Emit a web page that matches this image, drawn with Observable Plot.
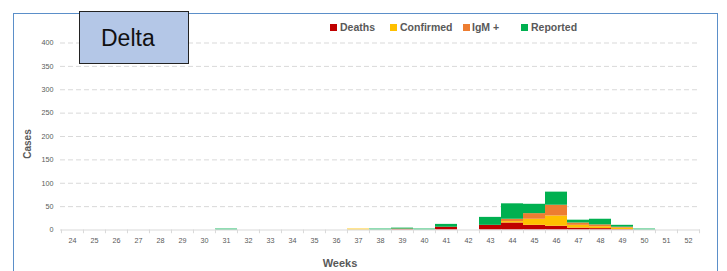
<!DOCTYPE html>
<html>
<head>
<meta charset="utf-8">
<script src="https://cdn.jsdelivr.net/npm/d3@7"></script>
<script src="https://cdn.jsdelivr.net/npm/@observablehq/plot@0.6"></script>
<style>
  html, body { margin: 0; padding: 0; background: #fff; }
  #wrap { position: relative; width: 727px; height: 271px; overflow: hidden; font-family: "Liberation Sans", Arial, sans-serif; }
  #frame { position: absolute; left: 13px; top: 13px; width: 705px; height: 300px; border: 1px solid #5b8fc9; box-sizing: border-box; }
  #chart { position: absolute; left: 0; top: 0; }
  .leg { position: absolute; top: 21px; font-size: 10.5px; font-weight: bold; color: #595959; white-space: nowrap; line-height: 12px; }
  .sw { position: absolute; top: 24px; width: 7px; height: 7px; }
  #delta { position: absolute; left: 79px; top: 11px; width: 110px; height: 53px; box-sizing: border-box; background: #b4c7e7; border: 1.6px solid #222; }
  #delta span { position: absolute; left: 21px; top: 13px; font-size: 23px; color: #111; font-family: "Liberation Sans", Arial, sans-serif; }
  #ylab { position: absolute; left: 27px; top: 144px; transform: translate(-50%, -50%) rotate(-90deg); font-size: 10px; font-weight: bold; color: #595959; }
  #xlab { position: absolute; left: 340px; top: 257px; transform: translateX(-50%); font-size: 11px; line-height: 12px; font-weight: bold; color: #595959; }
</style>
</head>
<body>
<div id="wrap">
  <div id="frame"></div>
  <div id="chart"></div>
  <div id="legend"></div>
  <div id="delta"><span>Delta</span></div>
  <div id="ylab">Cases</div>
  <div id="xlab">Weeks</div>
</div>
<script>
const weeks = d3.range(24, 53);
const seriesNames = ["Deaths", "Confirmed", "IgM +", "Reported"];
const seriesColors = ["#c00000", "#ffc000", "#ed7d31", "#00b050"];
const yTicks = [0, 50, 100, 150, 200, 250, 300, 350, 400];

// values per week (weeks 24..52)
const deaths    = {39: 1, 41: 6, 43: 10, 44: 15, 45: 10, 46: 8, 47: 4, 48: 3, 49: 1};
const confirmed = {37: 2, 44: 3, 45: 13, 46: 22, 47: 6, 48: 4, 49: 3};
const igm       = {39: 1, 44: 5, 45: 12, 46: 23, 47: 5, 48: 4, 49: 2};
const reported  = {31: 2, 38: 2, 39: 2, 40: 2, 41: 6, 43: 17, 44: 33, 45: 20, 46: 28, 47: 6, 48: 12, 49: 4, 50: 2};

const seriesValues = [deaths, confirmed, igm, reported];
const table = [];
seriesNames.forEach((s, i) => {
  weeks.forEach(w => {
    const v = seriesValues[i][w] || 0;
    if (v > 0) table.push({week: w, series: s, value: v});
  });
});

const W = 727, H = 271, mL = 60, mR = 27;
const bw = (W - mL - mR) / weeks.length;

const chart = Plot.plot({
  width: W, height: H,
  marginLeft: mL, marginRight: mR, marginTop: 42.5, marginBottom: 41.5,
  style: {fontFamily: "Liberation Sans, Arial, sans-serif", fontSize: "7.2px", color: "#595959", background: "transparent", overflow: "visible"},
  x: {type: "band", domain: weeks, paddingInner: 0, paddingOuter: 0, label: null},
  y: {domain: [0, 400], label: null},
  color: {domain: seriesNames, range: seriesColors},
  marks: [
    Plot.ruleY(yTicks.filter(d => d > 0), {stroke: "#d9d9d9", strokeDasharray: "5,3", strokeWidth: 1}),
    Plot.barY(table, {x: "week", y: "value", fill: "series", order: seriesNames}),
    Plot.ruleY([0], {stroke: "#d9d9d9", strokeWidth: 1}),
    Plot.ruleX(weeks, {x: d => d, y1: 0, y2: -8, dx: -bw / 2, stroke: "#d9d9d9"}),
    Plot.ruleX([weeks[weeks.length - 1]], {x: d => d, y1: 0, y2: -8, dx: bw / 2, stroke: "#d9d9d9"}),
    Plot.axisY({ticks: yTicks, tickSize: 0, tickPadding: 7, label: null}),
    Plot.axisX({tickSize: 0, tickPadding: 8, label: null})
  ]
});
document.getElementById("chart").appendChild(chart);

// legend
const legPos = [{sx: 330, tx: 340}, {sx: 390, tx: 400}, {sx: 463, tx: 472}, {sx: 521, tx: 531}];
const legend = document.getElementById("legend");
seriesNames.forEach((s, i) => {
  const sw = document.createElement("div");
  sw.className = "sw"; sw.style.left = legPos[i].sx + "px"; sw.style.background = seriesColors[i];
  const t = document.createElement("div");
  t.className = "leg"; t.style.left = legPos[i].tx + "px"; t.textContent = s;
  legend.appendChild(sw); legend.appendChild(t);
});
</script>
</body>
</html>
